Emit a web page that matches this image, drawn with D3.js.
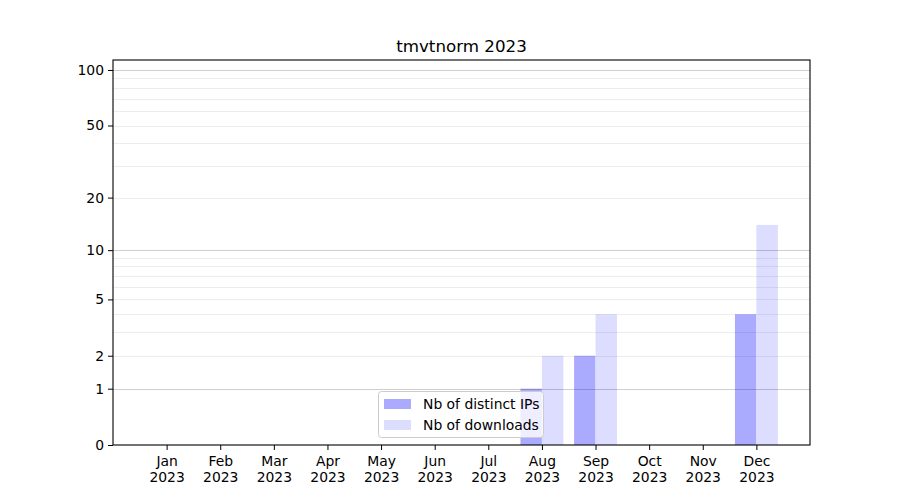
<!DOCTYPE html>
<html>
<head>
<meta charset="utf-8">
<script src="https://cdn.jsdelivr.net/npm/d3@7"></script>
<style>
  body { margin: 0; background: #fff; }
  svg { font-family: "DejaVu Sans", sans-serif; }
</style>
</head>
<body>
<svg id="chart" width="900" height="500"></svg>
<script>
const months = ["Jan","Feb","Mar","Apr","May","Jun","Jul","Aug","Sep","Oct","Nov","Dec"];
const year = "2023";
const distinctIPs = [0,0,0,0,0,0,0,1,2,0,0,4];
const downloads   = [0,0,0,0,0,0,0,2,4,0,0,14];
const yTicks = [0,1,2,5,10,20,50,100];
const majorGrid = [1,10,100];
const minorGrid = [2,3,4,5,6,7,8,9,20,30,40,50,60,70,80,90];
const yMax = 113.2;
const title = "tmvtnorm 2023";
const seriesNames = ["Nb of distinct IPs","Nb of downloads"];
const colors = ["#aaaaff","#ddddff"];

const svg = d3.select("#chart");
const L = 113, R = 810, T = 60, B = 445;
const fs = 13.9;

const x = d3.scaleLinear().domain([-1, 12]).range([L, R]);
const y = d3.scaleSymlog().constant(1).domain([0, yMax]).range([B, T]);
const bw = 0.4;

svg.append("rect").attr("x", L).attr("y", T).attr("width", R-L).attr("height", B-T).attr("fill", "#fff");

// bars
const g = svg.append("g");
g.selectAll(".ip").data(distinctIPs).join("rect")
  .attr("x", (d,i) => x(i - bw))
  .attr("width", (d,i) => x(i) - x(i - bw))
  .attr("y", d => y(d))
  .attr("height", d => y(0) - y(d))
  .attr("fill", colors[0]);
g.selectAll(".dl").data(downloads).join("rect")
  .attr("x", (d,i) => x(i))
  .attr("width", (d,i) => x(i + bw) - x(i))
  .attr("y", d => y(d))
  .attr("height", d => y(0) - y(d))
  .attr("fill", colors[1]);

// grid
svg.append("g").selectAll("line").data(minorGrid).join("line")
  .attr("x1", L).attr("x2", R)
  .attr("y1", d => Math.round(y(d)) + 0.5).attr("y2", d => Math.round(y(d)) + 0.5)
  .attr("stroke", "rgba(0,0,0,0.07)").attr("stroke-width", 1);
svg.append("g").selectAll("line").data(majorGrid).join("line")
  .attr("x1", L).attr("x2", R)
  .attr("y1", d => Math.round(y(d)) + 0.5).attr("y2", d => Math.round(y(d)) + 0.5)
  .attr("stroke", "rgba(0,0,0,0.19)").attr("stroke-width", 1);

// axes
const yAxis = d3.axisLeft(y).tickValues(yTicks).tickFormat(d3.format("d")).tickSizeOuter(0).tickSize(5).tickPadding(4);
const ya = svg.append("g").attr("transform", `translate(${L},0)`).call(yAxis);
ya.select(".domain").remove();
ya.selectAll("text").attr("font-size", fs).attr("fill", "#000").attr("font-family", "DejaVu Sans");
ya.selectAll("line").attr("stroke", "#000");

const xAxis = d3.axisBottom(x).tickValues(d3.range(12)).tickFormat(() => "").tickSizeOuter(0).tickSize(5);
const xa = svg.append("g").attr("transform", `translate(0,${B})`).call(xAxis);
xa.select(".domain").remove();
xa.selectAll("line").attr("stroke", "#000");
xa.selectAll(".tick").each(function(d) {
  const t = d3.select(this).append("text").attr("fill", "#000").attr("font-size", fs)
    .attr("text-anchor", "middle").attr("font-family", "DejaVu Sans");
  t.append("tspan").attr("x", 0).attr("y", 21).text(months[d]);
  t.append("tspan").attr("x", 0).attr("y", 37).text(year);
});

// spines
svg.append("rect").attr("x", L).attr("y", T).attr("width", R-L).attr("height", B-T)
  .attr("fill", "none").attr("stroke", "#000").attr("stroke-width", 1.1);

// title
svg.append("text").attr("x", (L+R)/2).attr("y", 52).attr("text-anchor", "middle")
  .attr("font-size", 16.7).attr("fill", "#000").text(title);

// legend
const lg = svg.append("g");
lg.append("rect").attr("x", 378.5).attr("y", 391.5).attr("width", 165).attr("height", 46).attr("rx", 3)
  .attr("fill", "rgba(255,255,255,0.8)").attr("stroke", "#ccc").attr("stroke-width", 1);
seriesNames.forEach((n, i) => {
  const yy = 399 + i * 21;
  lg.append("rect").attr("x", 384).attr("y", yy).attr("width", 27).attr("height", 10).attr("fill", colors[i]);
  lg.append("text").attr("x", 423).attr("y", yy + 10).attr("font-size", fs).attr("fill", "#000").text(n);
});
</script>
</body>
</html>
